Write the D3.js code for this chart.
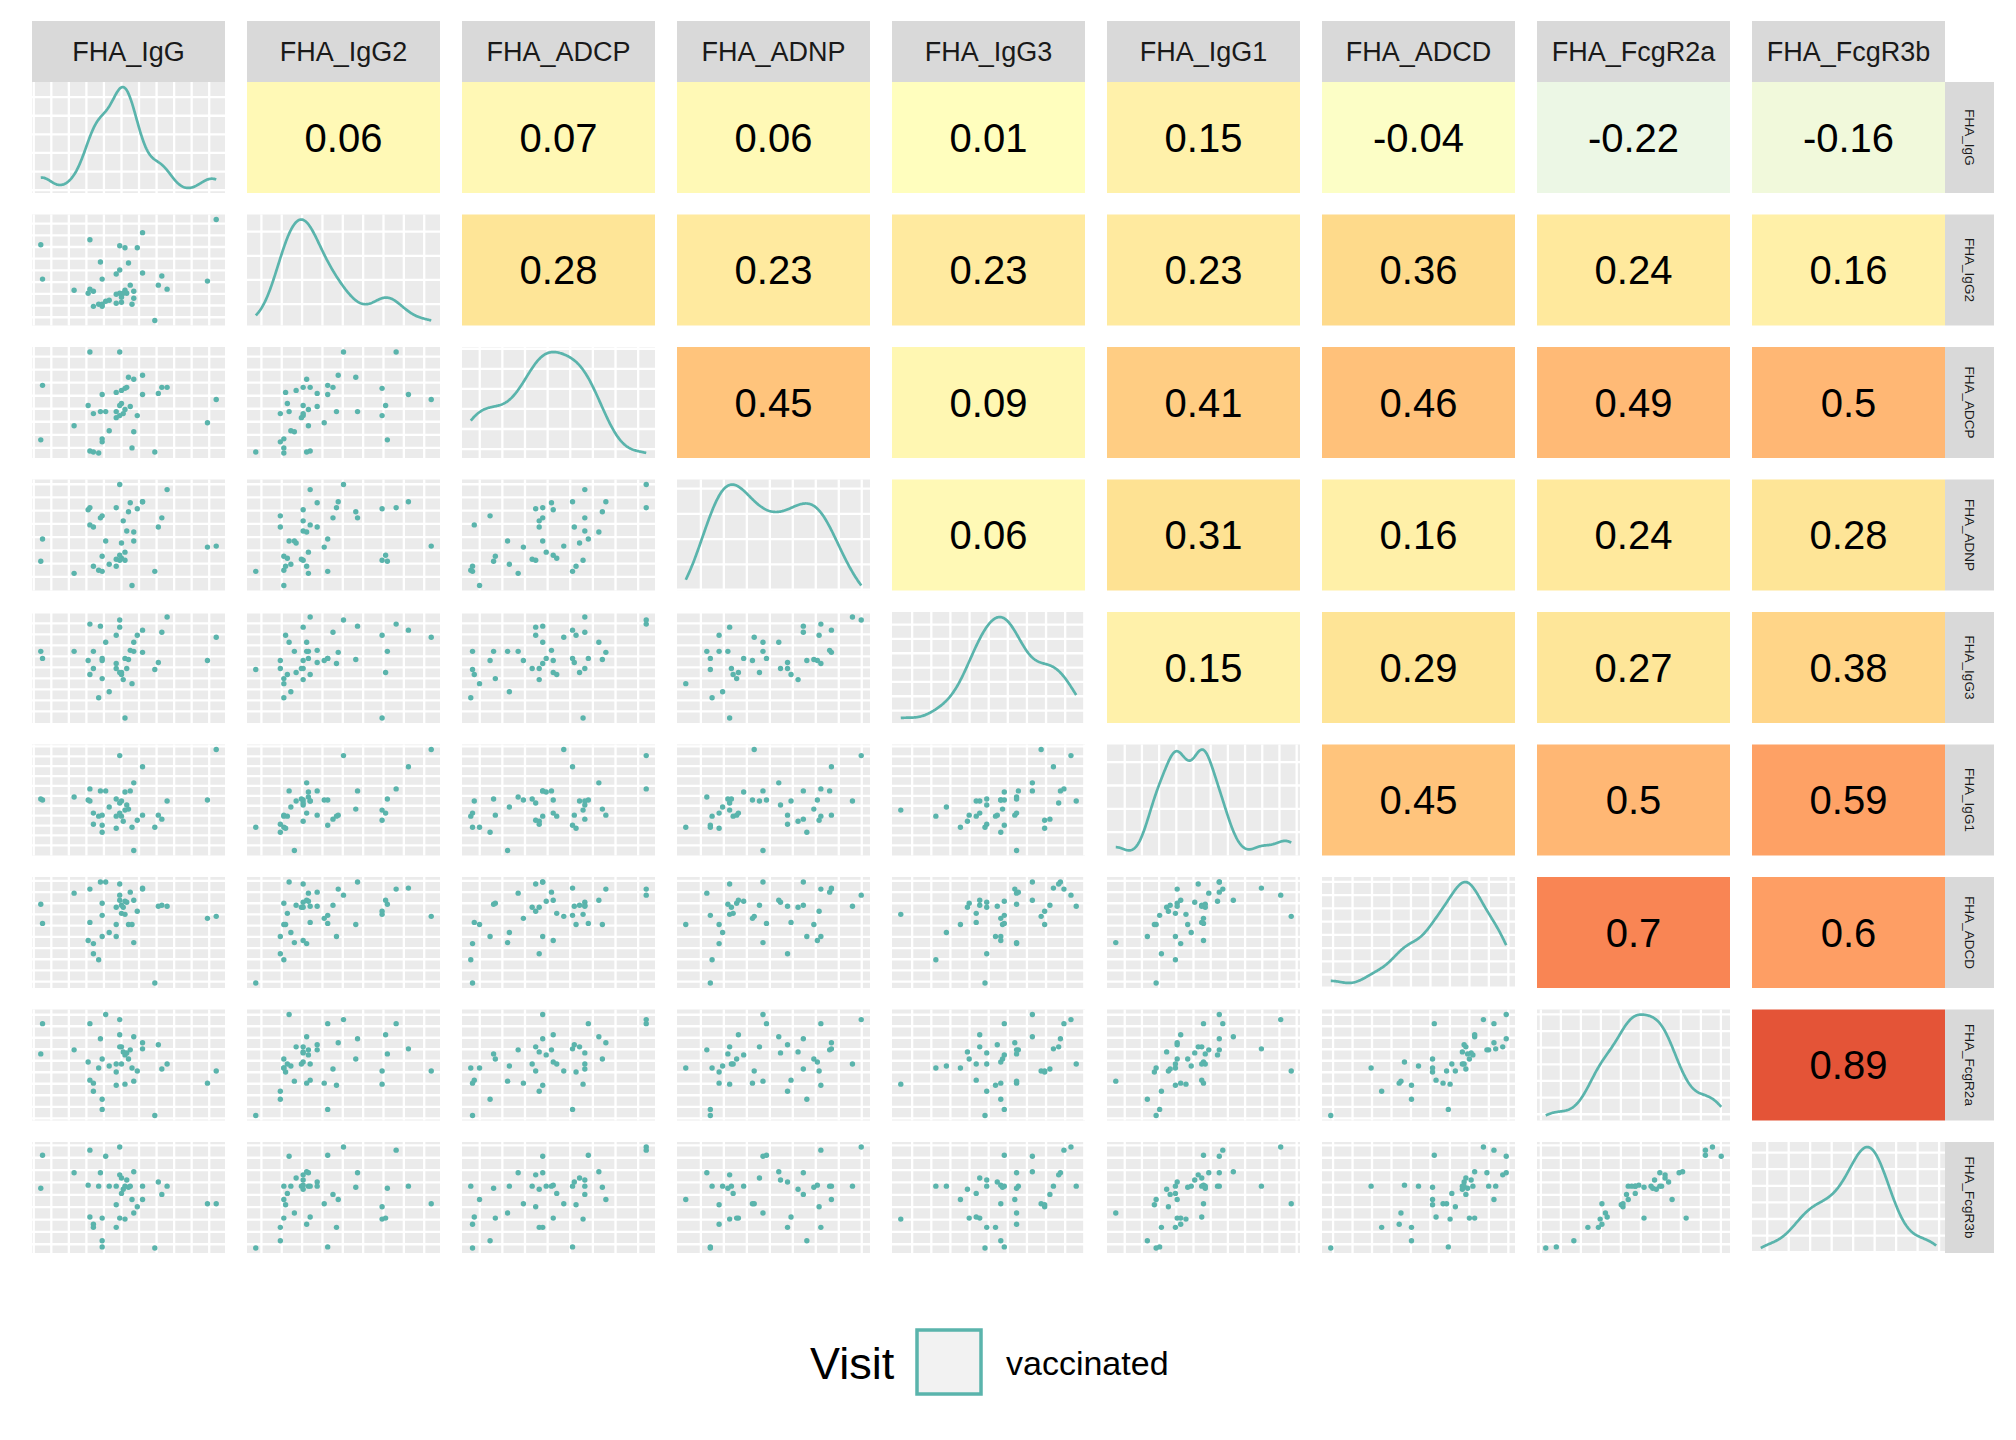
<!DOCTYPE html>
<html>
<head>
<meta charset="utf-8">
<script src="https://cdn.jsdelivr.net/npm/d3@7"></script>
<style>
  body { margin: 0; background: #ffffff; }
  text { font-family: "Liberation Sans", Arial, sans-serif; }
</style>
</head>
<body>
<svg id="canvas"></svg>
<script>
// variable names (strip labels)
let varNames = ['FHA_IgG', 'FHA_IgG2', 'FHA_ADCP', 'FHA_ADNP', 'FHA_IgG3', 'FHA_IgG1', 'FHA_ADCD', 'FHA_FcgR2a', 'FHA_FcgR3b']

// one value per sample (41 samples)
let fhaIgG    = [45,28,1,37,53,19,34,45,46,49,67,27,33,39,43,48,51,58,72,50,0,47,46,69,52,58,95,100,43,55,53,28,35,45,48,30,30,43,35,35,65]
let fhaIgG2   = [50,80,41,19,29,30,58,27,23,27,35,27,16,20,26,30,35,87,31,57,75,27,18,44,16,47,39,100,17,72,22,31,16,74,72,29,14,46,14,41,0]
let fhaADCP   = [100,100,67,41,73,27,41,37,62,65,59,47,0,22,35,43,46,58,65,75,13,39,49,65,5,77,30,53,60,37,21,2,14,47,64,1,39,41,11,58,1]
let fhaADNP   = [100,77,46,44,53,12,67,25,42,54,58,75,15,21,26,33,82,83,95,73,24,64,27,67,0,83,38,39,19,76,44,60,29,30,25,19,58,77,69,14,14]
let fhaIgG3   = [97,93,59,75,75,66,91,90,45,49,55,57,20,26,49,59,67,87,100,58,66,38,43,85,34,65,57,80,82,82,66,43,39,45,0,66,49,54,57,59,48]
let fhaIgG1   = [94,61,50,59,67,53,59,47,49,45,35,50,34,43,51,58,59,83,49,41,51,29,34,31,23,35,50,100,22,30,0,49,35,37,40,37,26,34,18,25,23]
let fhaADCD   = [87,93,59,100,82,89,100,98,77,80,76,42,23,50,75,81,90,94,76,58,78,75,69,77,58,93,64,66,58,71,40,60,79,82,68,39,29,46,46,67,0]
let fhaFcgR2a = [95,91,91,100,78,65,76,68,68,62,70,53,47,49,51,60,65,66,51,56,61,63,51,46,47,72,32,44,43,44,34,35,56,80,31,32,24,30,16,6,0]
let fhaFcgR3b = [100,97,92,91,76,75,75,73,70,68,66,63,62,62,62,62,62,62,62,61,60,59,55,54,49,49,45,45,44,42,36,32,31,31,30,25,22,22,9,3,2]

let columns = [fhaIgG, fhaIgG2, fhaADCP, fhaADNP, fhaIgG3, fhaIgG1, fhaADCD, fhaFcgR2a, fhaFcgR3b]

// correlations shown in the upper triangle, row by row
let corrRows = [
  [0.06, 0.07, 0.06, 0.01, 0.15, -0.04, -0.22, -0.16],
  [0.28, 0.23, 0.23, 0.23, 0.36, 0.24, 0.16],
  [0.45, 0.09, 0.41, 0.46, 0.49, 0.5],
  [0.06, 0.31, 0.16, 0.24, 0.28],
  [0.15, 0.29, 0.27, 0.38],
  [0.45, 0.5, 0.59],
  [0.7, 0.6],
  [0.89]
]

// grid breaks (first break and spacing of major+minor lines) per variable
let gridStart = [-4, 3.2, 5.1, 8.6, 6.5, 5.1, 1.3, -2.8, 5.6]
let gridStep  = [10, 11.6, 12.9, 13.1, 10.9, 9.8, 11.1, 11.4, 12]

let legendTitle = 'Visit'
let legendLabels = ['vaccinated']

let width = 2016
let height = 1440
let padLeft = 32
let padTop = 82
let panelW = 193
let panelH = 111
let stepX = 215
let stepY = 132.5
let stripH = 61
let stripW = 49
let teal = '#5AB4AC'
let nVars = varNames.length

let svg = d3.select('#canvas')
svg.attr('width', width).attr('height', height)

// RdYlBu (7 classes) reversed, -1..1
let fillScale = d3.scaleLinear()
  .domain([-1, -2/3, -1/3, 0, 1/3, 2/3, 1])
  .range(['#4575B4', '#91BFDB', '#E0F3F8', '#FFFFBF', '#FEE090', '#FC8D59', '#D73027'])
  .interpolate(d3.interpolateLab)

let scaleOf = (vals, r) => {
  let [a, b] = d3.extent(vals)
  let pad = (b - a) * 0.05
  return d3.scaleLinear().domain([a - pad, b + pad]).range(r)
}

let xScales = columns.map(c => scaleOf(c, [0, panelW]))
let yScales = columns.map(c => scaleOf(c, [panelH, 0]))

let breaksOf = (k) => {
  let dom = xScales[k].domain()
  return d3.range(gridStart[k], dom[1], gridStep[k]).filter(v => v > dom[0])
}

let bwNrd0 = (vals) => {
  let sorted = vals.slice().sort(d3.ascending)
  let sd = d3.deviation(vals)
  let iqr = d3.quantileSorted(sorted, 0.75) - d3.quantileSorted(sorted, 0.25)
  return 0.9 * Math.min(sd, iqr / 1.34) * Math.pow(vals.length, -0.2)
}

let densityOf = (vals) => {
  let bw = bwNrd0(vals)
  let [a, b] = d3.extent(vals)
  return d3.range(0, 257).map(k => {
    let x = a + (b - a) * k / 256
    let y = d3.mean(vals, v => Math.exp(-0.5 * ((x - v) / bw) ** 2)) / (bw * Math.sqrt(2 * Math.PI))
    return [x, y]
  })
}

let drawPanelBack = (g, vBreaks, hBreaks, xs, ys) => {
  g.append('rect').attr('width', panelW).attr('height', panelH).attr('fill', '#EBEBEB')
  g.selectAll('line.v').data(vBreaks).enter().append('line')
    .attr('class', 'v')
    .attr('x1', d => xs(d)).attr('x2', d => xs(d))
    .attr('y1', 0).attr('y2', panelH)
    .attr('stroke', '#ffffff').attr('stroke-width', 2.3)
  g.selectAll('line.h').data(hBreaks).enter().append('line')
    .attr('class', 'h')
    .attr('y1', d => ys(d)).attr('y2', d => ys(d))
    .attr('x1', 0).attr('x2', panelW)
    .attr('stroke', '#ffffff').attr('stroke-width', 2.3)
}

for (let i = 0; i < nVars; i++) {
  for (let j = 0; j < nVars; j++) {
    let g = svg.append('g')
      .attr('transform', 'translate(' + (padLeft + j * stepX) + ',' + (padTop + i * stepY) + ')')

    if (j > i) {
      let r = corrRows[i][j - i - 1]
      g.append('rect').attr('width', panelW).attr('height', panelH).attr('fill', fillScale(r))
      g.append('text')
        .attr('x', panelW / 2).attr('y', panelH / 2)
        .attr('dy', '0.36em')
        .attr('text-anchor', 'middle')
        .attr('font-size', 40)
        .attr('fill', '#000000')
        .text(String(r))
    } else if (j === i) {
      let dens = densityOf(columns[i])
      let dy = d3.scaleLinear()
        .domain(d3.extent(dens, d => d[1]))
        .range([panelH, 0])
      let dd = dy.domain()
      let dpad = (dd[1] - dd[0]) * 0.05
      dy.domain([dd[0] - dpad, dd[1] + dpad])
      let major = dy.ticks(3)
      let half = (major[1] - major[0]) / 2
      let hBreaks = d3.range(major[0] - half * 2, dy.domain()[1], half).filter(v => v > dy.domain()[0])
      drawPanelBack(g, breaksOf(j), hBreaks, xScales[j], dy)
      g.append('path')
        .datum(dens)
        .attr('fill', 'none')
        .attr('stroke', teal)
        .attr('stroke-width', 2.7)
        .attr('d', d3.line().x(d => xScales[j](d[0])).y(d => dy(d[1])))
    } else {
      drawPanelBack(g, breaksOf(j), breaksOf(i), xScales[j], yScales[i])
      g.selectAll('circle')
        .data(d3.range(columns[j].length))
        .enter()
        .append('circle')
        .attr('cx', k => xScales[j](columns[j][k]))
        .attr('cy', k => yScales[i](columns[i][k]))
        .attr('r', 2.7)
        .attr('fill', teal)
    }
  }
}

// top strips
varNames.forEach((name, j) => {
  let g = svg.append('g').attr('transform', 'translate(' + (padLeft + j * stepX) + ',' + (padTop - stripH) + ')')
  g.append('rect').attr('width', panelW).attr('height', stripH).attr('fill', '#D9D9D9')
  g.append('text')
    .attr('x', panelW / 2).attr('y', stripH / 2)
    .attr('dy', '0.36em')
    .attr('text-anchor', 'middle')
    .attr('font-size', 27)
    .attr('fill', '#1A1A1A')
    .text(name)
})

// right strips
varNames.forEach((name, i) => {
  let x0 = padLeft + (nVars - 1) * stepX + panelW
  let g = svg.append('g').attr('transform', 'translate(' + x0 + ',' + (padTop + i * stepY) + ')')
  g.append('rect').attr('width', stripW).attr('height', panelH).attr('fill', '#D9D9D9')
  g.append('text')
    .attr('transform', 'translate(' + (stripW / 2) + ',' + (panelH / 2) + ') rotate(90)')
    .attr('dy', '0.36em')
    .attr('text-anchor', 'middle')
    .attr('font-size', 13.5)
    .attr('fill', '#1A1A1A')
    .text(name)
})

// legend
let legend = svg.append('g')
legend.append('text')
  .attr('x', 810).attr('y', 1379)
  .attr('font-size', 45)
  .attr('fill', '#000000')
  .text(legendTitle)
legend.selectAll('rect.key').data(legendLabels).enter().append('rect')
  .attr('class', 'key')
  .attr('x', 917).attr('y', 1330)
  .attr('width', 64).attr('height', 64)
  .attr('fill', '#F2F2F2')
  .attr('stroke', teal)
  .attr('stroke-width', 3.5)
legend.selectAll('text.lab').data(legendLabels).enter().append('text')
  .attr('class', 'lab')
  .attr('x', 1006).attr('y', 1375)
  .attr('font-size', 34)
  .attr('fill', '#000000')
  .text(d => d)
</script>
</body>
</html>
